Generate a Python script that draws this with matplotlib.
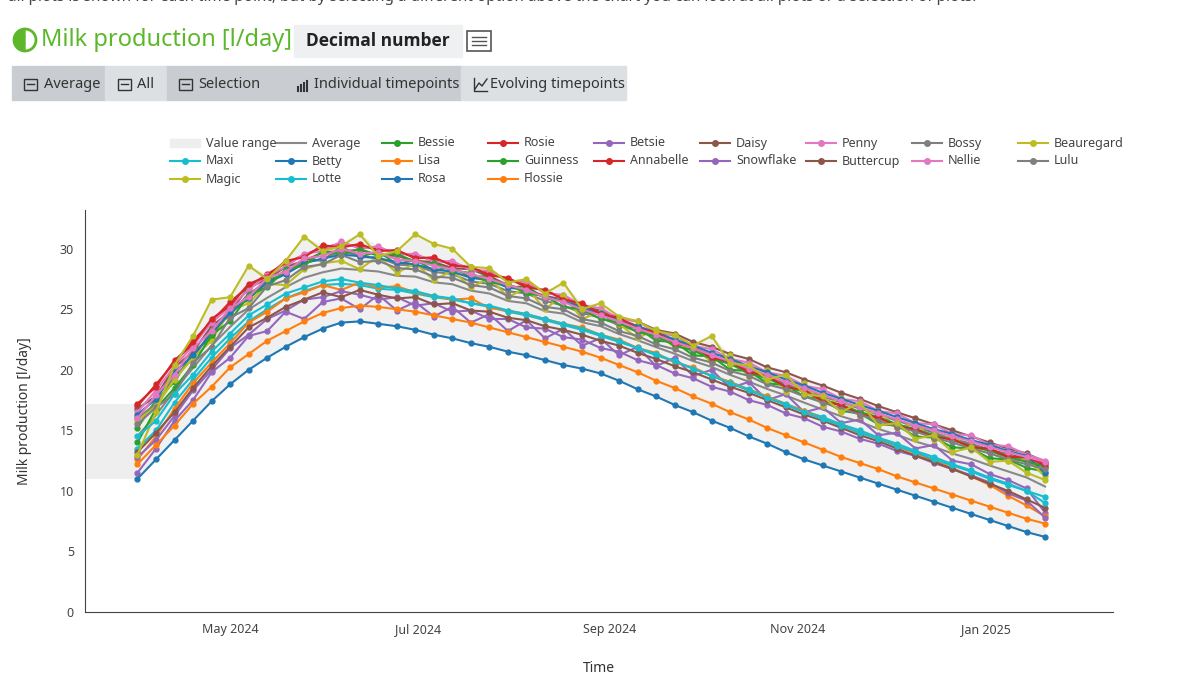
import numpy as np
import pandas as pd
import matplotlib
matplotlib.use("Agg")
import matplotlib.pyplot as plt
from matplotlib.patches import Rectangle, Wedge, Circle
from matplotlib.lines import Line2D

plt.rcParams['font.family'] = ['Noto Sans', 'DejaVu Sans']

dates = pd.date_range("2024-04-01", periods=50, freq="6D")

rosie = [17.0,18.8,20.6,22.4,24.0,25.6,26.9,27.9,28.8,29.5,30.1,30.4,30.2,30.0,29.7,29.4,29.1,28.8,28.4,28.0,27.5,27.0,26.5,26.0,25.4,24.8,24.2,23.6,23.0,22.4,21.8,21.2,20.6,20.0,19.4,18.8,18.2,17.6,17.0,16.5,16.0,15.5,15.0,14.6,14.2,13.8,13.4,13.0,12.7,12.3]
annabelle = [17.2,18.6,20.8,22.1,24.2,25.3,27.1,27.7,29.0,29.3,30.3,30.1,30.4,29.8,29.9,29.2,29.3,28.6,28.5,27.8,27.6,26.8,26.6,25.8,25.5,24.6,24.3,23.4,23.1,22.2,21.9,21.0,20.7,19.8,19.5,18.6,18.3,17.4,17.1,16.3,16.1,15.3,15.1,14.4,14.3,13.6,13.5,12.8,12.8,12.1]
bessie = [15.2,17.5,19.0,21.5,22.6,25.0,25.8,27.4,27.9,29.2,29.0,30.2,29.3,29.8,28.7,29.1,28.2,28.5,27.6,27.8,26.8,26.9,25.9,25.8,24.8,24.7,23.6,23.5,22.4,22.3,21.2,21.1,20.0,19.9,18.9,18.7,17.8,17.5,16.6,16.4,15.5,15.4,14.5,14.4,13.6,13.5,12.7,12.6,11.9,11.6]
guinness = [14.0,16.8,18.5,20.4,22.9,24.0,26.2,26.8,28.3,28.6,29.8,29.5,30.0,29.4,29.6,28.9,28.8,28.2,28.0,27.2,27.1,26.3,26.1,25.2,25.0,24.2,23.9,23.1,22.8,22.0,21.6,20.9,20.5,19.7,19.3,18.6,18.2,17.5,17.1,16.5,16.1,15.5,15.1,14.6,14.2,13.7,13.3,12.8,12.4,12.0]
penny = [16.5,18.3,20.3,22.0,23.9,25.2,26.6,27.8,28.5,29.6,29.8,30.6,30.0,30.2,29.5,29.6,28.9,29.0,28.2,28.2,27.3,27.3,26.3,26.2,25.3,25.1,24.2,24.0,23.1,22.8,22.0,21.7,20.9,20.6,19.8,19.5,18.7,18.4,17.6,17.4,16.6,16.4,15.6,15.5,14.7,14.6,13.8,13.7,13.0,12.5]
nellie = [16.0,17.9,19.6,21.8,23.2,25.1,26.0,27.6,28.1,29.2,29.4,30.0,29.6,29.7,29.1,29.0,28.6,28.3,27.9,27.5,27.0,26.6,26.0,25.6,25.0,24.5,24.0,23.4,22.9,22.3,21.8,21.2,20.7,20.1,19.6,19.0,18.5,17.9,17.4,16.9,16.4,15.9,15.4,15.0,14.5,14.1,13.6,13.2,12.8,12.4]
bossy = [16.0,17.2,19.5,20.9,23.3,24.5,26.3,27.2,28.0,28.9,29.1,29.9,29.3,29.3,28.7,28.6,28.1,27.9,27.3,27.1,26.5,26.3,25.7,25.3,24.7,24.3,23.7,23.2,22.7,22.1,21.6,21.0,20.5,19.9,19.4,18.8,18.3,17.8,17.3,16.8,16.3,15.8,15.3,14.8,14.3,13.9,13.4,13.0,12.5,12.0]
lulu = [15.5,16.9,18.0,20.6,21.9,24.3,25.1,26.9,27.4,28.5,28.7,29.5,28.9,29.0,28.4,28.3,27.7,27.6,27.0,26.8,26.1,25.9,25.2,25.0,24.2,23.9,23.2,22.8,22.1,21.7,21.0,20.6,19.9,19.5,18.8,18.4,17.8,17.3,16.8,16.3,15.8,15.3,14.9,14.4,14.0,13.5,13.1,12.6,12.2,11.8]
betty = [16.3,17.6,19.8,21.2,23.0,24.7,25.9,27.2,27.9,28.8,29.2,29.5,29.4,29.2,28.9,28.7,28.3,28.1,27.6,27.4,26.8,26.6,26.0,25.7,25.1,24.7,24.1,23.6,23.1,22.5,22.0,21.4,20.9,20.3,19.8,19.2,18.7,18.1,17.6,17.1,16.6,16.1,15.6,15.1,14.7,14.2,13.8,13.3,12.9,11.5]
beauregard = [15.8,17.0,19.2,21.0,22.4,24.9,25.5,27.1,27.0,28.3,28.8,29.0,28.3,29.4,28.0,28.8,27.4,28.2,26.8,27.6,26.0,26.8,25.0,26.2,24.2,24.8,23.8,22.6,23.4,21.8,22.0,20.6,21.2,19.4,20.0,18.2,18.9,17.0,17.7,16.2,16.6,15.2,15.6,14.2,14.5,13.4,13.5,12.5,12.6,11.2]
magic = [13.0,16.5,20.4,22.8,25.8,26.0,28.6,27.5,29.0,31.0,29.8,30.2,31.2,29.4,29.8,31.2,30.4,30.0,28.5,28.4,27.2,27.5,26.3,27.2,25.0,25.5,24.4,24.0,23.2,22.9,22.0,22.8,20.5,20.4,19.2,19.6,18.0,17.8,16.5,17.3,15.4,15.6,14.3,14.6,13.2,13.6,12.4,12.5,11.5,10.9]
daisy = [16.8,17.8,20.2,21.5,23.6,24.8,26.8,27.5,28.5,29.0,29.7,29.8,29.9,29.5,29.4,29.0,28.9,28.4,28.3,27.7,27.0,26.6,26.1,25.8,25.2,24.9,24.3,24.0,23.3,23.0,22.3,21.9,21.3,20.9,20.2,19.8,19.2,18.7,18.1,17.6,17.0,16.5,16.0,15.5,15.0,14.5,14.0,13.5,13.1,12.4]
rosa = [11.0,12.6,14.2,15.8,17.4,18.8,20.0,21.0,21.9,22.7,23.4,23.9,24.0,23.8,23.6,23.3,22.9,22.6,22.2,21.9,21.5,21.2,20.8,20.4,20.1,19.7,19.1,18.4,17.8,17.1,16.5,15.8,15.2,14.5,13.9,13.2,12.6,12.1,11.6,11.1,10.6,10.1,9.6,9.1,8.6,8.1,7.6,7.1,6.6,6.2]
flossie = [12.2,13.8,15.4,17.2,18.6,20.2,21.3,22.4,23.2,24.0,24.7,25.1,25.3,25.2,25.0,24.8,24.5,24.2,23.9,23.5,23.1,22.7,22.3,21.9,21.5,21.0,20.4,19.8,19.1,18.5,17.8,17.2,16.5,15.9,15.2,14.6,14.0,13.4,12.8,12.3,11.8,11.2,10.7,10.2,9.7,9.2,8.7,8.2,7.7,7.3]
lisa = [12.6,14.5,16.8,18.9,20.6,22.2,23.9,24.8,25.9,26.4,27.0,26.6,27.2,26.8,26.9,26.4,26.1,25.8,25.9,25.1,24.9,24.6,24.2,23.8,23.5,22.9,22.5,21.8,21.4,20.6,20.2,19.5,19.0,18.3,17.8,17.1,16.6,15.9,15.4,14.8,14.3,13.7,13.1,12.5,11.9,11.2,10.5,9.6,8.8,7.9]
maxi = [13.5,15.0,17.3,19.2,21.0,22.6,24.0,25.0,25.9,26.5,27.0,27.1,27.0,26.7,26.6,26.3,26.0,25.8,25.5,25.2,24.8,24.5,24.1,23.7,23.3,22.8,22.3,21.8,21.2,20.7,20.1,19.5,19.0,18.4,17.8,17.2,16.6,16.1,15.5,15.0,14.4,13.9,13.3,12.8,12.2,11.7,11.1,10.6,10.0,9.5]
lotte = [14.5,15.8,18.0,19.6,21.5,23.0,24.5,25.4,26.3,26.8,27.3,27.5,27.2,27.0,26.7,26.5,26.1,25.9,25.5,25.3,24.9,24.6,24.2,23.8,23.4,22.9,22.4,21.8,21.3,20.7,20.1,19.5,18.9,18.3,17.7,17.1,16.5,15.9,15.4,14.8,14.3,13.7,13.2,12.6,12.1,11.6,11.0,10.5,10.0,9.0]
betsie = [11.5,13.5,15.8,17.5,19.8,21.0,22.8,23.2,24.8,24.2,25.6,25.9,25.0,26.2,24.9,25.6,24.4,25.2,23.9,24.6,23.2,24.1,22.6,23.4,22.0,22.6,21.2,21.9,20.3,21.0,19.5,20.0,18.5,19.0,17.5,18.0,16.5,16.9,15.6,15.9,14.6,14.8,13.5,13.8,12.5,12.2,11.4,10.9,10.2,8.2]
snowflake = [12.8,14.2,16.2,18.3,20.0,21.8,22.9,24.2,24.9,25.8,26.0,26.5,26.2,25.8,26.0,25.3,25.5,24.8,24.9,24.2,24.2,23.5,23.4,22.7,22.5,21.8,21.5,20.8,20.4,19.7,19.3,18.6,18.2,17.5,17.1,16.4,16.0,15.3,14.9,14.3,13.9,13.3,12.9,12.3,11.8,11.3,10.7,9.8,9.2,7.8]
buttercup = [13.2,14.8,16.5,18.5,20.3,21.9,23.5,24.3,25.2,25.8,26.4,26.0,26.6,26.2,25.9,26.0,25.4,25.5,24.9,24.8,24.3,24.1,23.6,23.3,22.9,22.4,22.0,21.4,20.9,20.3,19.8,19.2,18.6,18.1,17.5,16.9,16.3,15.8,15.2,14.6,14.1,13.5,12.9,12.4,11.8,11.2,10.6,10.0,9.3,8.6]

# legend order (row by row) and colours
cows = [
    ("Bessie", bessie, "#2ca02c"), ("Rosie", rosie, "#d62728"), ("Betsie", betsie, "#9467bd"),
    ("Daisy", daisy, "#8c564b"), ("Penny", penny, "#e377c2"), ("Bossy", bossy, "#7f7f7f"),
    ("Beauregard", beauregard, "#bcbd22"), ("Maxi", maxi, "#17becf"), ("Betty", betty, "#1f77b4"),
    ("Lisa", lisa, "#ff7f0e"), ("Guinness", guinness, "#2ca02c"), ("Annabelle", annabelle, "#d62728"),
    ("Snowflake", snowflake, "#9467bd"), ("Buttercup", buttercup, "#8c564b"), ("Nellie", nellie, "#e377c2"),
    ("Lulu", lulu, "#7f7f7f"), ("Magic", magic, "#bcbd22"), ("Lotte", lotte, "#17becf"),
    ("Rosa", rosa, "#1f77b4"), ("Flossie", flossie, "#ff7f0e"),
]

W, H = 1200, 675
fig = plt.figure(figsize=(12, 6.75), dpi=100)


def fx(x):
    return x / W


def fy(y):
    return 1 - y / H


def box(x0, y0, x1, y1, color):
    fig.patches.append(Rectangle((fx(x0), fy(y1)), fx(x1 - x0), (y1 - y0) / H,
                                 transform=fig.transFigure, color=color, zorder=0))


def seg(xs, ys, color="#333333", lw=1.0):
    fig.lines.append(Line2D([fx(x) for x in xs], [fy(y) for y in ys],
                            transform=fig.transFigure, color=color, lw=lw))


# header
fig.text(fx(8), fy(-2), "all plots is shown for each time point, but by selecting a different option above the chart you can look at all plots or a selection of plots.",
         fontsize=11, color="#444444", va="center")
green = "#5cb82a"
cx, cy = 25 / 100, (H - 40) / 100  # inches
fig.patches.append(Circle((cx, cy), 0.11, transform=fig.dpi_scale_trans, fill=False, ec=green, lw=2))
fig.patches.append(Wedge((cx, cy), 0.11, 90, 270, transform=fig.dpi_scale_trans, color=green))
fig.text(fx(41), fy(40), "Milk production [l/day]", fontsize=17, color=green, va="center")
box(294, 25, 462, 57, "#eef0f2")
fig.text(fx(306), fy(41), "Decimal number", fontsize=12.5, fontweight="bold",
         family=["Open Sans", "DejaVu Sans"], color="#222222", va="center")
fig.patches.append(Rectangle((fx(467), fy(51)), 24 / W, 20 / H, transform=fig.transFigure,
                             fill=False, ec="#555555", lw=1.2))
for yy in (37, 41, 45):
    seg([472, 486], [yy, yy], "#555555")

box(12, 66, 105, 100, "#c9ccd0")
box(105, 66, 167, 100, "#dde0e3")
box(167, 66, 284, 100, "#c9ccd0")
box(284, 66, 461, 100, "#c9ccd0")
box(461, 66, 626, 100, "#dde0e3")
for x, t in [(44, "Average"), (137, "All"), (198, "Selection"), (314, "Individual timepoints"), (490, "Evolving timepoints")]:
    fig.text(fx(x), fy(84), t, fontsize=10.5, color="#333333", va="center")
# small button icons
for x in (24, 118, 179):
    fig.patches.append(Rectangle((fx(x), fy(90)), 13 / W, 11 / H, transform=fig.transFigure,
                                 fill=False, ec="#333333", lw=1))
    seg([x + 3, x + 10], [84, 84])
for i, hgt in enumerate([4, 6, 8, 10]):
    seg([298 + i * 3, 298 + i * 3], [91, 91 - hgt], lw=1.5)
seg([474, 474, 487], [78, 91, 91])
seg([475, 479, 482, 487], [89, 83, 86, 79])

# chart
ax = fig.add_axes([fx(85), fy(612), fx(1113 - 85), (612 - 210) / H])
data = np.array([c[1] for c in cows])
lo, hi = data.min(axis=0), data.max(axis=0)
avg = data.mean(axis=0)
x0 = pd.Timestamp("2024-03-15")
x1 = pd.Timestamp("2025-02-11")

ax.fill_between([x0, dates[0]], lo[0], hi[0], color="#eeeeee", lw=0, zorder=0)
ax.fill_between(dates, lo, hi, color="#f0f0f0", lw=0, zorder=0)
ax.plot(dates, avg, color="#888888", lw=1.5, zorder=1)
for name, vals, col in cows:
    ax.plot(dates, vals, color=col, lw=1.5, marker="o", ms=3.5, zorder=2)

ax.set_xlim(x0, x1)
ax.set_ylim(0, 33.2)
ax.set_yticks([0, 5, 10, 15, 20, 25, 30])
ticks = pd.to_datetime(["2024-05-01", "2024-07-01", "2024-09-01", "2024-11-01", "2025-01-01"])
ax.set_xticks(ticks)
ax.set_xticklabels(["May 2024", "Jul 2024", "Sep 2024", "Nov 2024", "Jan 2025"])
ax.tick_params(labelsize=9, colors="#444444", length=0, pad=8)
for s in ("top", "right"):
    ax.spines[s].set_visible(False)
ax.spines["left"].set_color("#444444")
ax.spines["bottom"].set_color("#444444")
ax.set_ylabel("Milk production [l/day]", fontsize=10, color="#333333", labelpad=20)
ax.set_xlabel("Time", fontsize=10, color="#333333", labelpad=18)

# legend drawn row by row on a fixed grid, as in the reference
labels = ["Value range", "Average"] + [c[0] for c in cows]
colors = [None, "#888888"] + [c[2] for c in cows]
for k, (lab, col) in enumerate(zip(labels, colors)):
    lx = 170 + 106 * (k % 9)
    ly = 143 + 18 * (k // 9)
    if col is None:
        box(lx, ly - 4, lx + 30, ly + 4, "#eeeeee")
    else:
        seg([lx, lx + 30], [ly, ly], col, 1.5)
        if k >= 2:
            fig.lines.append(Line2D([fx(lx + 15)], [fy(ly)], transform=fig.transFigure,
                                    marker="o", ms=4, color=col))
    fig.text(fx(lx + 36), fy(ly), lab, fontsize=9, color="#444444", va="center")

fig.savefig("out.png", dpi=100)
